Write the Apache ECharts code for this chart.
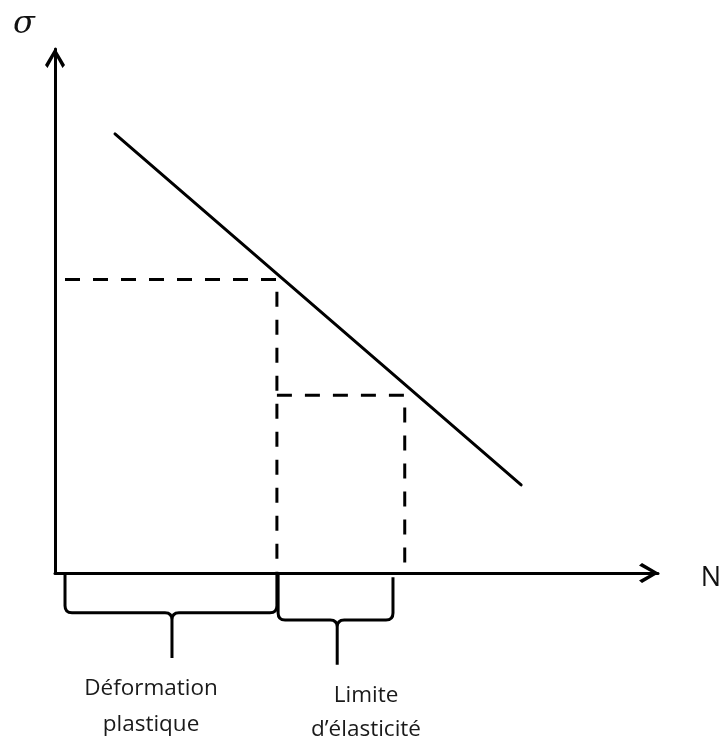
<!DOCTYPE html>
<html><head><meta charset="utf-8">
<script src="https://cdn.jsdelivr.net/npm/echarts@6/dist/echarts.min.js"></script>
<style>html,body{margin:0;padding:0;background:#fff}#chart{width:725px;height:741px}</style>
</head><body><div id="chart"></div>
<script>
// Schematic data (N on x, sigma on y, arbitrary units 0..100)
const curveN = [9.95, 77.3];
const curveSigma = [83.8, 16.8];
const plasticN = 36.8;
const plasticSigma = 56.0;
const elasticN = 58.0;
const elasticSigma = 33.9;
const dashStartN = 1.66;
const braceStartN = [1.66, 37.0];
const braceEndN = [36.8, 56.05];
const braceMidN = [19.4, 46.8];
const braceBarSigma = [-7.6, -8.95];
const braceTipSigma = [-16.2, -17.5];
const braceEndTopSigma = [0, -0.8];
const braceLabels = [['Déformation', 'plastique'], ['Limite', 'd’élasticité']];
const axisNames = ['N', 'σ'];

const chevron = 'path://M10,0 L20,17 L17.5,20 L10,6.5 L2.5,20 L0,17 Z';
const axisCommon = {
  type: 'value', min: 0, max: 100,
  axisLine: { show: true, onZero: false, lineStyle: { color: '#000', width: 3 },
    symbol: ['none', chevron], symbolSize: [20, 20], symbolOffset: [0, -9] },
  axisTick: { show: false }, axisLabel: { show: false }, splitLine: { show: false }
};

const braceData = braceStartN.map((s, i) => [s, braceEndN[i], braceMidN[i], braceBarSigma[i], braceTipSigma[i], braceEndTopSigma[i]]);
const dashStyle = { color: '#000', width: 3, type: [15, 13] };

const chart = echarts.init(document.getElementById('chart'), null, { renderer: 'canvas' });
const graphics = [
  { type: 'text', x: 24, y: 25, style: { text: axisNames[1], font: 'italic 32px "DejaVu Serif"', fill: '#111', align: 'center', verticalAlign: 'middle' } },
  { type: 'text', x: 711, y: 578, style: { text: axisNames[0], font: '27px "Open Sans"', fill: '#111', align: 'center', verticalAlign: 'middle' } }
];
const labelCenters = [[151, 689, 725], [366, 696, 730]];
braceLabels.forEach((lines, i) => {
  lines.forEach((t, j) => {
    graphics.push({ type: 'text', x: labelCenters[i][0], y: labelCenters[i][1 + j],
      style: { text: t, font: '22.5px "Open Sans"', fill: '#1a1a1a', align: 'center', verticalAlign: 'middle' } });
  });
});

chart.setOption({
  animation: false,
  backgroundColor: '#fff',
  grid: { left: 55, right: 67, top: 49, bottom: 168, containLabel: false, outerBoundsMode: 'none' },
  xAxis: axisCommon,
  yAxis: axisCommon,
  graphic: graphics,
  series: [
    { type: 'line', data: curveN.map((n, i) => [n, curveSigma[i]]), symbol: 'none', silent: true,
      lineStyle: { color: '#000', width: 3, cap: 'round' }, z: 3 },
    { type: 'line', data: [[dashStartN, plasticSigma], [plasticN, plasticSigma], [plasticN, 0]], symbol: 'none', silent: true,
      lineStyle: dashStyle, z: 2 },
    { type: 'line', data: [[plasticN, elasticSigma], [elasticN, elasticSigma], [elasticN, 0]], symbol: 'none', silent: true,
      lineStyle: dashStyle, z: 2 },
    { type: 'custom', clip: false, silent: true, data: braceData,
      renderItem: function (params, api) {
        const x1 = api.value(0), x2 = api.value(1), xm = api.value(2), yb = api.value(3), yt = api.value(4), ye = api.value(5);
        const a = api.coord([x1, 0]);
        const b = api.coord([x1, yb]);
        const m = api.coord([xm, yt]);
        const e = api.coord([x2, ye]);
        const r = 7;
        const by = b[1];
        const d = 'M' + a[0] + ',' + a[1] + ' L' + b[0] + ',' + (by - r) + ' Q' + b[0] + ',' + by + ' ' + (b[0] + r) + ',' + by +
          ' L' + (m[0] - r) + ',' + by + ' Q' + m[0] + ',' + by + ' ' + m[0] + ',' + (by + r) + ' L' + m[0] + ',' + m[1] +
          ' M' + m[0] + ',' + (by + r) + ' Q' + m[0] + ',' + by + ' ' + (m[0] + r) + ',' + by +
          ' L' + (e[0] - r) + ',' + by + ' Q' + e[0] + ',' + by + ' ' + e[0] + ',' + (by - r) + ' L' + e[0] + ',' + e[1];
        const minX = Math.min(a[0], b[0]), minY = Math.min(a[1], e[1]);
        return { type: 'path', shape: { pathData: d, x: minX, y: minY, width: e[0] - minX, height: m[1] - minY, layout: 'cover' },
          style: { stroke: '#000', lineWidth: 3, fill: null } };
      } }
  ]
});
</script></body></html>
